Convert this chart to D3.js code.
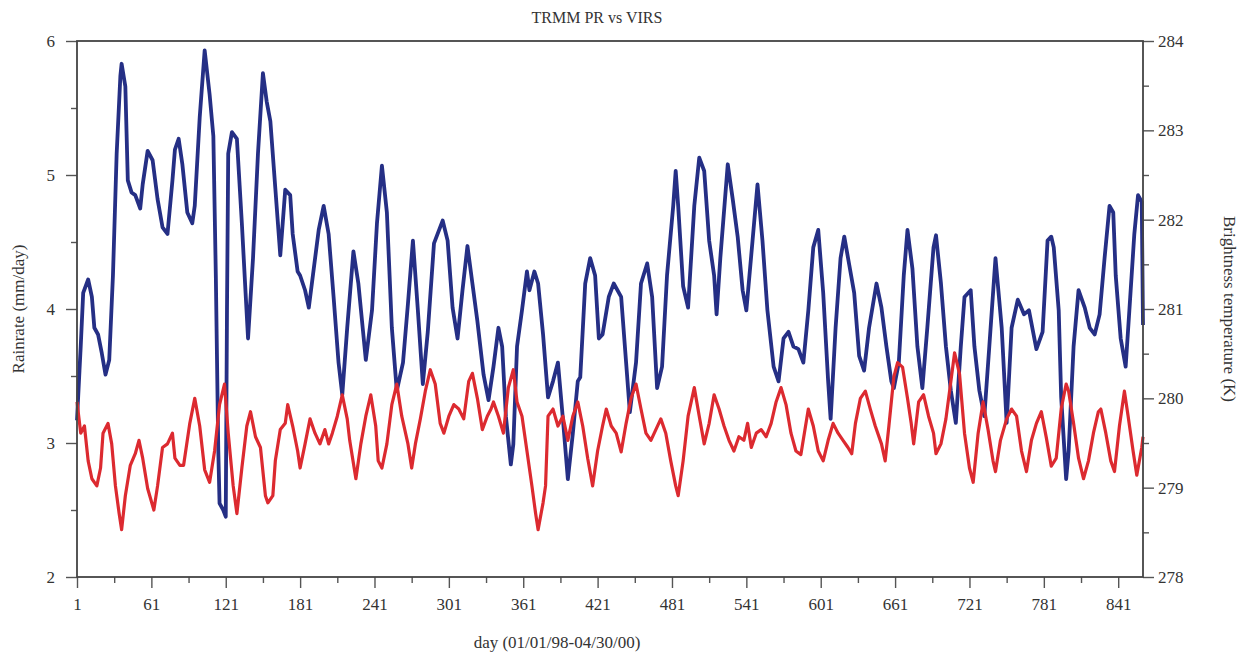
<!DOCTYPE html>
<html>
<head>
<meta charset="utf-8">
<script src="https://cdn.jsdelivr.net/npm/d3@7"></script>
<style>
    body { margin: 0; background: #fff; }
    text { font-family: "Liberation Serif", "DejaVu Serif", serif; fill: #333; }
    .tick line { stroke: #555; stroke-width: 1.4; }
    .tick text { font-size: 17px; fill: #333; }
</style>
</head>
<body>
<script>

//Rainrate (TRMM PR), left axis
var blueDays = [1,3,4,6,10,13,15,18,21,24,27,30,33,36,37,40,42,45,48,52,54,58,62,66,70,74,78,80,83,86,
    90,94,96,100,104,108,111,113,115,116,119,121,122,123,126,130,134,137,139,143,147,151,154,157,161,165,169,173,175,179,
    181,185,188,192,196,200,204,208,212,215,219,224,228,234,239,243,247,251,255,259,264,268,272,276,280,284,289,296,300,304,
    308,312,316,320,324,329,333,337,341,344,347,351,353,356,360,364,366,370,373,377,381,385,389,393,397,401,405,407,411,415,
    419,422,425,430,434,440,444,447,452,456,461,465,469,473,477,482,484,486,490,494,499,503,507,511,515,517,520,526,530,534,
    538,541,546,550,554,558,563,567,571,575,579,583,587,591,595,599,603,607,609,613,617,620,624,628,632,636,640,646,650,654,
    658,660,664,668,671,675,679,683,687,692,694,698,702,706,710,714,717,722,725,729,733,737,742,747,751,755,760,765,769,775,
    780,784,787,789,793,795,799,801,805,809,814,818,822,826,830,834,837,839,843,847,850,854,857,860,861];

var rainrate = [3.17,3.54,3.72,4.12,4.22,4.09,3.86,3.81,3.67,3.51,3.62,4.25,5.16,5.74,5.83,5.66,4.96,4.87,4.85,4.75,
    4.93,5.18,5.11,4.82,4.61,4.56,4.96,5.19,5.27,5.08,4.72,4.64,4.77,5.43,5.93,5.60,5.29,4.25,2.94,2.55,
    2.50,2.45,3.99,5.16,5.32,5.27,4.64,4.12,3.78,4.38,5.16,5.76,5.55,5.40,4.90,4.40,4.89,4.85,4.56,4.28,
    4.25,4.14,4.01,4.30,4.59,4.77,4.56,4.09,3.60,3.36,3.86,4.43,4.19,3.62,3.99,4.64,5.07,4.72,3.86,3.39,
    3.60,4.04,4.51,3.99,3.44,3.83,4.49,4.66,4.51,4.01,3.78,4.14,4.47,4.19,3.91,3.51,3.32,3.57,3.86,3.72,
    3.20,2.84,2.99,3.72,3.99,4.28,4.14,4.28,4.19,3.81,3.34,3.46,3.60,3.18,2.73,3.07,3.46,3.49,4.19,4.38,
    4.25,3.78,3.81,4.09,4.19,4.09,3.60,3.23,3.60,4.19,4.34,4.09,3.41,3.57,4.25,4.77,5.03,4.77,4.17,4.01,
    4.77,5.13,5.03,4.51,4.25,3.96,4.38,5.08,4.82,4.54,4.14,3.99,4.51,4.93,4.51,3.99,3.57,3.46,3.78,3.83,
    3.72,3.70,3.60,3.99,4.46,4.59,4.12,3.46,3.18,3.86,4.38,4.54,4.33,4.12,3.65,3.54,3.86,4.19,4.01,3.72,
    3.46,3.41,3.60,4.25,4.59,4.30,3.72,3.41,3.86,4.46,4.55,4.19,3.72,3.39,3.15,3.72,4.09,4.14,3.72,3.39,
    3.20,3.72,4.38,3.86,3.15,3.86,4.07,3.96,3.99,3.70,3.83,4.51,4.54,4.46,3.99,3.34,2.73,2.94,3.72,4.14,
    4.01,3.86,3.81,3.96,4.38,4.77,4.72,4.25,3.78,3.57,3.99,4.56,4.85,4.80,3.88];

//Brightness temperature (VIRS), right axis
var redDays = [1,4,7,10,13,17,20,22,26,29,32,35,37,40,44,48,51,54,58,63,66,70,74,78,80,84,87,92,96,100,
    104,108,112,116,120,123,127,130,134,138,141,145,149,153,155,159,161,165,169,171,175,179,181,185,189,193,197,201,204,207,
    211,215,219,221,226,230,234,238,242,244,247,251,255,259,263,268,271,274,278,282,286,290,294,297,301,305,309,313,317,320,
    324,328,332,335,337,341,345,349,353,356,360,364,368,371,373,377,379,381,385,389,393,397,401,405,409,413,417,421,425,428,
    432,436,440,444,448,452,456,460,464,468,472,476,480,484,486,490,494,499,503,507,511,515,519,523,527,531,535,539,542,545,
    549,553,557,561,565,569,573,577,581,585,591,595,599,603,607,611,615,619,623,626,629,633,637,641,645,650,653,656,660,663,
    667,671,674,676,680,684,688,692,694,698,702,706,709,713,717,721,724,728,732,736,740,742,746,751,755,759,763,767,771,775,
    779,783,787,791,795,799,801,805,809,813,817,821,825,827,831,835,838,842,846,849,853,856,860,861];

var brightnessTemp = [279.96,279.61,279.69,279.30,279.10,279.02,279.22,279.61,279.72,279.49,
    279.02,278.71,278.53,278.91,279.25,279.38,279.53,279.33,278.99,278.75,
    279.02,279.45,279.49,279.61,279.33,279.25,279.25,279.72,280.00,279.69,
    279.20,279.06,279.41,279.93,280.16,279.61,279.02,278.71,279.22,279.69,
    279.85,279.57,279.45,278.91,278.83,278.91,279.30,279.65,279.72,279.93,
    279.69,279.41,279.22,279.49,279.77,279.61,279.49,279.65,279.49,279.61,
    279.80,280.04,279.77,279.53,279.10,279.49,279.80,280.04,279.69,279.30,
    279.22,279.49,279.93,280.16,279.80,279.49,279.22,279.49,279.77,280.08,
    280.32,280.16,279.72,279.61,279.80,279.93,279.88,279.77,280.19,280.28,
    280.00,279.65,279.80,279.88,279.96,279.80,279.61,280.12,280.32,279.96,
    279.80,279.41,279.02,278.71,278.53,278.83,279.02,279.80,279.88,279.69,
    279.80,279.53,279.80,279.96,279.69,279.33,279.02,279.41,279.69,279.88,
    279.69,279.61,279.40,279.72,280.00,280.16,279.88,279.61,279.53,279.65,
    279.77,279.61,279.30,279.02,278.91,279.30,279.80,280.12,279.80,279.49,
    279.72,280.04,279.88,279.69,279.53,279.41,279.57,279.53,279.72,279.45,
    279.61,279.65,279.57,279.72,279.96,280.12,279.93,279.61,279.41,279.37,
    279.88,279.69,279.41,279.30,279.53,279.72,279.61,279.53,279.45,279.38,
    279.72,280.00,280.08,279.88,279.69,279.49,279.30,279.69,280.24,280.40,
    280.35,280.00,279.72,279.49,279.96,280.04,279.80,279.61,279.38,279.49,
    279.77,280.19,280.51,280.27,279.61,279.22,279.06,279.61,279.96,279.65,
    279.30,279.18,279.53,279.77,279.88,279.80,279.41,279.18,279.53,279.72,
    279.85,279.56,279.24,279.33,279.88,280.16,280.08,279.72,279.33,279.10,
    279.30,279.61,279.85,279.88,279.61,279.30,279.18,279.69,280.08,279.80,
    279.41,279.14,279.45,279.57];

//Tick values
var dayTicks = [1, 61, 121, 181, 241, 301, 361, 421, 481, 541, 601, 661, 721, 781, 841];
var dayMinorTicks = [31, 91, 151, 211, 271, 331, 391, 451, 511, 571, 631, 691, 751, 811];
var rainTicks = [2, 3, 4, 5, 6];
var rainMinorTicks = [2.5, 3.5, 4.5, 5.5];
var tempTicks = [278, 279, 280, 281, 282, 283, 284];
var tempMinorTicks = [278.5, 279.5, 280.5, 281.5, 282.5, 283.5];

var w = 1248;
var h = 653;

//Set chart margins
var margin = {
    top: 41,
    bottom: 76,
    right: 105,
    left: 77
};

var height = h - margin.top - margin.bottom;
var width = w - margin.left - margin.right;

//Set up scales
var x = d3.scaleLinear()
    .domain([1, 861])
    .range([0, width]);

var yLeft = d3.scaleLinear()
    .domain([2, 6])
    .range([height, 0]);

var yRight = d3.scaleLinear()
    .domain([278, 284])
    .range([height, 0]);

var svg = d3.select("body").append("svg")
    .attr("width", w)
    .attr("height", h);

var chart = svg.append("g")
    .attr("transform", "translate(" + margin.left + "," + margin.top + ")");

//Axes (major + minor)
var addAxis = function(axis, cls, transform) {
    var g = chart.append("g")
        .classed(cls, true)
        .attr("transform", transform)
        .call(axis);
    g.select(".domain").remove();
    return g;
};

addAxis(d3.axisBottom(x).tickValues(dayTicks).tickSize(11).tickPadding(10).tickFormat(d3.format("d")),
    "xAxis", "translate(0," + height + ")");
addAxis(d3.axisBottom(x).tickValues(dayMinorTicks).tickSize(6).tickFormat(""),
    "xAxisMinor", "translate(0," + height + ")");

addAxis(d3.axisLeft(yLeft).tickValues(rainTicks).tickSize(11).tickPadding(11).tickFormat(d3.format("d")),
    "yAxis", "translate(0,0)");
addAxis(d3.axisLeft(yLeft).tickValues(rainMinorTicks).tickSize(6).tickFormat(""),
    "yAxisMinor", "translate(0,0)");

addAxis(d3.axisRight(yRight).tickValues(tempTicks).tickSize(11).tickPadding(4).tickFormat(d3.format("d")),
    "y2Axis", "translate(" + width + ",0)");
addAxis(d3.axisRight(yRight).tickValues(tempMinorTicks).tickSize(6).tickFormat(""),
    "y2AxisMinor", "translate(" + width + ",0)");

//Lines
var rainLine = d3.line()
    .x(function(d, i) { return x(blueDays[i]); })
    .y(function(d) { return yLeft(d); });

var tempLine = d3.line()
    .x(function(d, i) { return x(redDays[i]); })
    .y(function(d) { return yRight(d); });

chart.append("path")
    .datum(rainrate)
    .attr("fill", "none")
    .attr("stroke", "#252f85")
    .attr("stroke-width", 3.8)
    .attr("stroke-linejoin", "round")
    .attr("d", rainLine);

chart.append("path")
    .datum(brightnessTemp)
    .attr("fill", "none")
    .attr("stroke", "#dc2a30")
    .attr("stroke-width", 3.2)
    .attr("stroke-linejoin", "round")
    .attr("d", tempLine);

//Frame
chart.append("rect")
    .attr("x", 0)
    .attr("y", 0)
    .attr("width", width)
    .attr("height", height)
    .attr("fill", "none")
    .attr("stroke", "#444")
    .attr("stroke-width", 1.8);

//Titles
svg.append("text")
    .attr("x", 597)
    .attr("y", 23)
    .attr("text-anchor", "middle")
    .style("font-size", "16px")
    .text("TRMM PR vs VIRS");

svg.append("text")
    .attr("x", 557)
    .attr("y", 648)
    .attr("text-anchor", "middle")
    .style("font-size", "17px")
    .text("day (01/01/98-04/30/00)");

svg.append("text")
    .attr("transform", "translate(24," + (margin.top + height / 2) + ") rotate(-90)")
    .attr("text-anchor", "middle")
    .style("font-size", "17px")
    .text("Rainrate (mm/day)");

svg.append("text")
    .attr("transform", "translate(1224," + (margin.top + height / 2) + ") rotate(90)")
    .attr("text-anchor", "middle")
    .style("font-size", "17px")
    .text("Brightness temperature (K)");

</script>
</body>
</html>
